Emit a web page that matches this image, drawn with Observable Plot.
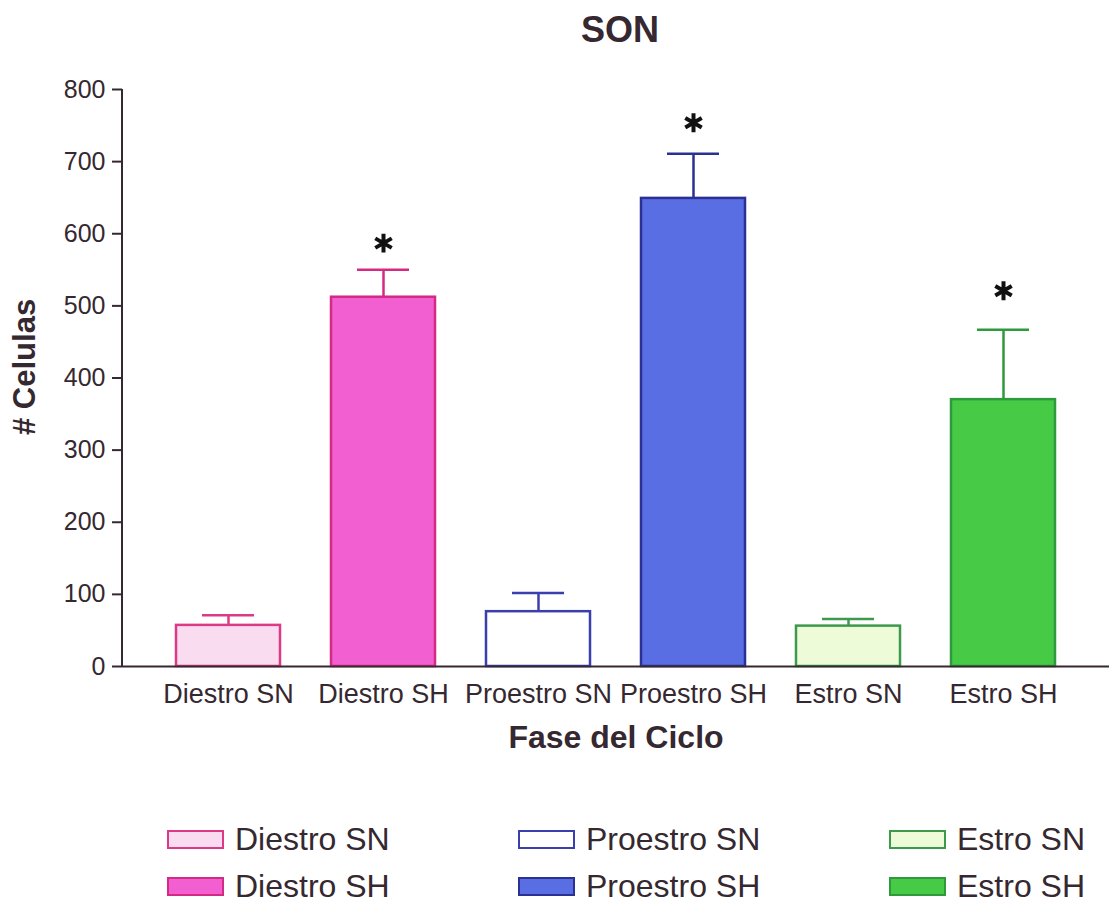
<!DOCTYPE html>
<html><head><meta charset="utf-8">
<script src="https://cdn.jsdelivr.net/npm/d3@7"></script>
<script src="https://cdn.jsdelivr.net/npm/@observablehq/plot@0.6"></script>
<style>
body{margin:0;background:#fff;font-family:"Liberation Sans",Arial,sans-serif;color:#352830;}
#wrap{position:relative;width:1109px;height:903px;overflow:hidden;}
#title{position:absolute;left:0;top:12px;width:1240px;text-align:center;font-weight:bold;font-size:36px;line-height:36px;}
#chart{position:absolute;left:0;top:60px;}
.leg{position:absolute;display:flex;align-items:center;height:40px;font-size:32px;white-space:nowrap;}
.sw{box-sizing:border-box;width:57px;height:19px;border:2.5px solid;margin-right:11px;}
</style></head><body>
<div id="wrap"><div id="title">SON</div><div id="chart"></div></div>
<script>
const categories = ["Diestro SN", "Diestro SH", "Proestro SN", "Proestro SH", "Estro SN", "Estro SH"];
const means = [57, 512, 76, 649, 56, 370];
const errors = [14, 38, 26, 62, 10, 97];
const starValues = [null, 587, null, 754, null, 521];
const fills = ["#fadcf0", "#f25fd0", "#ffffff", "#5a6ee4", "#eefbd9", "#47cb47"];
const strokes = ["#dc3a86", "#d42a83", "#3b3fae", "#2b3192", "#3d9a4c", "#2f9a3c"];
const yTicks = [0, 100, 200, 300, 400, 500, 600, 700, 800];

const data = categories.map((c, i) => ({cat: c, mean: means[i], err: errors[i], top: means[i] + errors[i], star: starValues[i], fill: fills[i], stroke: strokes[i]}));
const stars = data.filter(d => d.star != null);
const ink = "#352830";

const chart = Plot.plot({
  width: 1109, height: 700,
  marginLeft: 122, marginRight: 0, marginTop: 29, marginBottom: 94,
  style: {fontFamily: "'Liberation Sans', Arial, sans-serif", color: ink, background: "white"},
  x: {type: "band", domain: categories, padding: 0.33},
  y: {domain: [0, 800]},
  marks: [
    Plot.ruleX(data, {x: "cat", y1: "mean", y2: "top", stroke: "stroke", strokeWidth: 2.5}),
    Plot.tickY(data, {x: "cat", y: "top", stroke: "stroke", strokeWidth: 2.5, insetLeft: 26, insetRight: 26}),
    Plot.barY(data, {x: "cat", y: "mean", fill: "fill", stroke: "stroke", strokeWidth: 2.5}),
    Plot.dot(stars, {x: "cat", y: "star", symbol: "asterisk", r: 9, stroke: "#111", strokeWidth: 4}),
    Plot.ruleY([0], {stroke: ink, strokeWidth: 2}),
    Plot.axisY({ticks: yTicks, tickSize: 10, tickPadding: 7, fontSize: 25, color: ink, strokeWidth: 2, label: null}),
    Plot.axisX({tickSize: 0, tickPadding: 17, fontSize: 27, color: ink, label: null}),
    Plot.text(["Fase del Ciclo"], {frameAnchor: "bottom", dy: 81, fontSize: 32, fontWeight: "bold", fill: ink}),
    Plot.text(["# Celulas"], {frameAnchor: "left", dx: -97, dy: 57, rotate: -90, fontSize: 31, fontWeight: "bold", fill: ink})
  ]
});
document.getElementById("chart").appendChild(chart);

// y axis line drawn from the y scale
const ys = chart.scale("y");
d3.select(chart).append("line")
  .attr("x1", 122).attr("x2", 122)
  .attr("y1", ys.apply(0)).attr("y2", ys.apply(800))
  .attr("stroke", ink).attr("stroke-width", 2);

// legend
const wrap = document.getElementById("wrap");
const colX = [167, 518, 889];
const rowY = [839, 886];
categories.forEach((c, i) => {
  const item = document.createElement("div");
  item.className = "leg";
  item.style.left = colX[Math.floor(i / 2)] + "px";
  item.style.top = (rowY[i % 2] - 20) + "px";
  const sw = document.createElement("div");
  sw.className = "sw";
  sw.style.background = fills[i];
  sw.style.borderColor = strokes[i];
  const t = document.createElement("span");
  t.textContent = c;
  item.appendChild(sw); item.appendChild(t);
  wrap.appendChild(item);
});
</script>
</body></html>
